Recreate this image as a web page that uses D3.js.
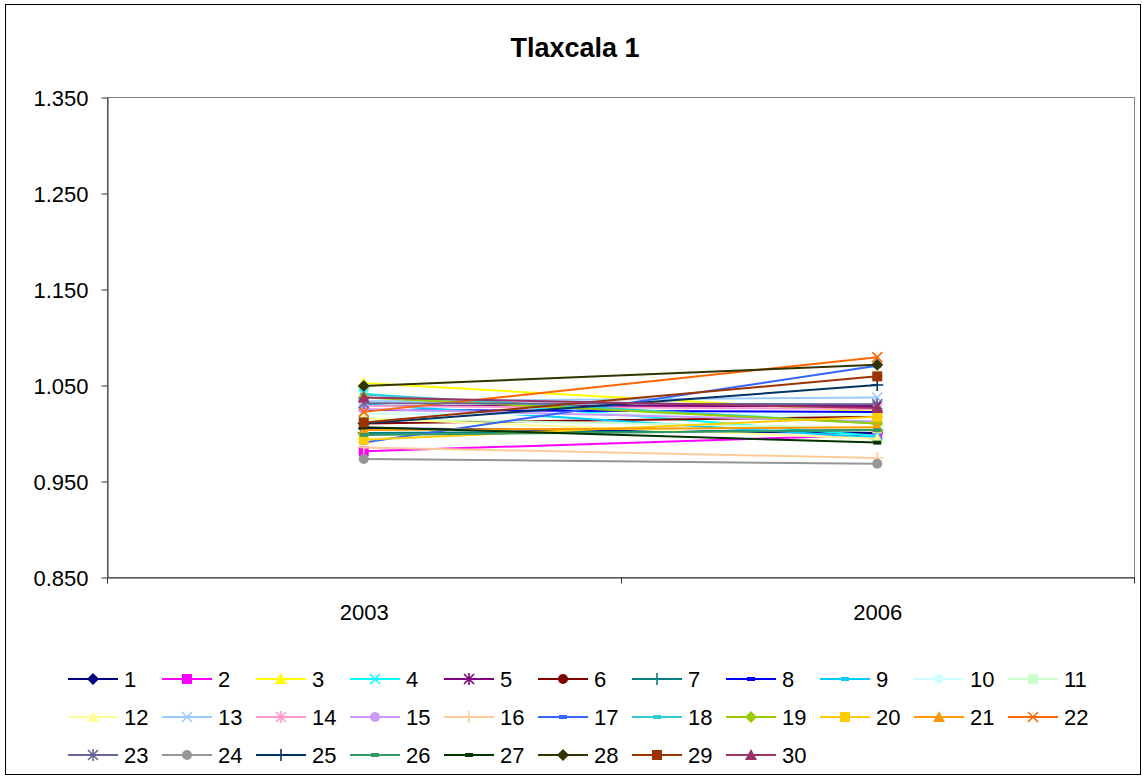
<!DOCTYPE html>
<html>
<head>
<meta charset="utf-8">
<script src="https://cdn.jsdelivr.net/npm/d3@7"></script>
<style>
  body { margin: 0; background: #fff; }
  text { font-family: "Liberation Sans", Arial, sans-serif; }
</style>
</head>
<body>
<svg id="chart"></svg>
<script>
"use strict";

// datos
var years = ["2003", "2006"];
var seriesNames = ["1","2","3","4","5","6","7","8","9","10","11","12","13","14","15",
  "16","17","18","19","20","21","22","23","24","25","26","27","28","29","30"];
var v2003 = [1.005, 0.981, 1.052, 1.041, 1.028, 1.010, 1.000, 1.024, 1.030, 1.020,
  1.015, 1.015, 1.033, 1.028, 1.025, 0.985, 0.990, 1.040, 1.037, 0.993,
  1.003, 1.022, 1.031, 0.973, 1.010, 0.998, 1.006, 1.049, 1.011, 1.037];
var v2006 = [1.000, 0.998, 1.022, 0.997, 1.028, 1.017, 1.003, 1.022, 0.995, 1.019,
  1.005, 0.994, 1.037, 1.025, 1.012, 0.974, 1.070, 1.010, 1.010, 1.017,
  1.006, 1.079, 1.030, 0.968, 1.050, 1.003, 0.990, 1.071, 1.059, 1.026];
var yTicks = [0.85, 0.95, 1.05, 1.15, 1.25, 1.35];

// colores de excel
var colors = ["#000080","#FF00FF","#FFFF00","#00FFFF","#800080","#800000","#008080","#0000FF",
  "#00CCFF","#CCFFFF","#CCFFCC","#FFFF99","#99CCFF","#FF99CC","#CC99FF","#FFCC99",
  "#3366FF","#33CCCC","#99CC00","#FFCC00","#FF9900","#FF6600","#666699","#969696",
  "#003366","#339966","#003300","#333300","#993300","#993366"];
var markerCycle = ["diamond","square","triangle","x","star","circle","plus","dash","dash"];

var width = 1143, height = 779;
var plot = { left: 107, top: 97, right: 1134, bottom: 577 };

var svg = d3.select("#chart").attr("width", width).attr("height", height);

svg.append("rect")
  .attr("x", 5.5).attr("y", 4.5)
  .attr("width", 1135).attr("height", 770)
  .attr("fill", "#fff").attr("stroke", "#000").attr("stroke-width", 1);

svg.append("text")
  .attr("x", 575).attr("y", 57)
  .attr("text-anchor", "middle")
  .style("font-size", "27px").style("font-weight", "bold")
  .text("Tlaxcala 1");

var x = d3.scaleBand().domain(years).range([plot.left, plot.right]);
var y = d3.scaleLinear().domain([0.85, 1.35]).range([plot.bottom, plot.top]);

// borde del area
svg.append("rect")
  .attr("x", plot.left + 0.5).attr("y", plot.top + 0.5)
  .attr("width", plot.right - plot.left).attr("height", plot.bottom - plot.top)
  .attr("fill", "none").attr("stroke", "#808080");

// eje y
svg.append("g")
  .attr("transform", `translate(${plot.left + 0.5},0.5)`)
  .call(d3.axisLeft(y).tickValues(yTicks).tickFormat(d3.format(".3f")).tickSize(6).tickSizeOuter(0).tickPadding(13))
  .call((g) => g.selectAll("path, line").attr("stroke", "#333"))
  .call((g) => g.selectAll("text").style("font-size", "22px").attr("fill", "#000").attr("dy", "0.35em"));

// eje x
var xg = svg.append("g")
  .attr("transform", `translate(0.5,${plot.bottom + 0.5})`)
  .call(d3.axisBottom(x).tickSize(0).tickSizeOuter(0).tickPadding(27))
  .call((g) => g.select(".domain").attr("stroke", "#333"))
  .call((g) => g.selectAll("text").style("font-size", "22px").attr("fill", "#000"));
var edges = years.map((d) => x(d)).concat([x(years[years.length - 1]) + x.bandwidth()]);
xg.selectAll(".edge")
  .data(edges)
  .enter()
  .append("line")
  .attr("x1", (d) => Math.round(d)).attr("x2", (d) => Math.round(d))
  .attr("y1", 0).attr("y2", 6)
  .attr("stroke", "#333");

function markerPath(type) {
  switch (type) {
    case "diamond": return "M0,-6L6,0L0,6L-6,0Z";
    case "square": return "M-5,-5H5V5H-5Z";
    case "triangle": return "M0,-6L6,5H-6Z";
    case "x": return "M-5,-5L5,5M-5,5L5,-5";
    case "star": return "M-5,-5L5,5M-5,5L5,-5M0,-6V6";
    case "circle": return "M5,0A5,5 0 1,1 -5,0A5,5 0 1,1 5,0Z";
    case "plus": return "M-6,0H6M0,-6V6";
    case "dash": return "M-4,-2H4V2H-4Z";
  }
}
function isStroke(type) {
  return type === "x" || type === "star" || type === "plus";
}

var series = seriesNames.map((name, i) => ({
  name: name,
  color: colors[i],
  marker: markerCycle[i % markerCycle.length],
  values: [{ year: years[0], v: v2003[i] }, { year: years[1], v: v2006[i] }],
}));

var cx = (d) => x(d.year) + x.bandwidth() / 2;
var line = d3.line().x(cx).y((d) => y(d.v));

var sg = svg.selectAll(".serie")
  .data(series)
  .enter()
  .append("g")
  .attr("class", "serie");

sg.append("path")
  .attr("d", (s) => line(s.values))
  .attr("fill", "none")
  .attr("stroke", (s) => s.color)
  .attr("stroke-width", 2);

sg.each(function (s) {
  d3.select(this).selectAll(".mk")
    .data(s.values)
    .enter()
    .append("path")
    .attr("class", "mk")
    .attr("transform", (d) => `translate(${cx(d)},${y(d.v)})`)
    .attr("d", markerPath(s.marker))
    .attr("fill", isStroke(s.marker) ? "none" : s.color)
    .attr("stroke", isStroke(s.marker) ? s.color : "none")
    .attr("stroke-width", 1.6);
});

// leyenda
var legend = svg.selectAll(".legend")
  .data(series)
  .enter()
  .append("g")
  .attr("class", "legend")
  .attr("transform", (d, i) => `translate(${68 + (i % 11) * 94},${679 + Math.floor(i / 11) * 38})`);

legend.append("line")
  .attr("x1", 0).attr("x2", 50)
  .attr("stroke", (d) => d.color)
  .attr("stroke-width", 2);

legend.append("path")
  .attr("transform", "translate(25,0)")
  .attr("d", (d) => markerPath(d.marker))
  .attr("fill", (d) => isStroke(d.marker) ? "none" : d.color)
  .attr("stroke", (d) => isStroke(d.marker) ? d.color : "none")
  .attr("stroke-width", 1.6);

legend.append("text")
  .attr("x", 56).attr("y", 0)
  .attr("dy", "0.35em")
  .style("font-size", "22px")
  .text((d) => d.name);
</script>
</body>
</html>
